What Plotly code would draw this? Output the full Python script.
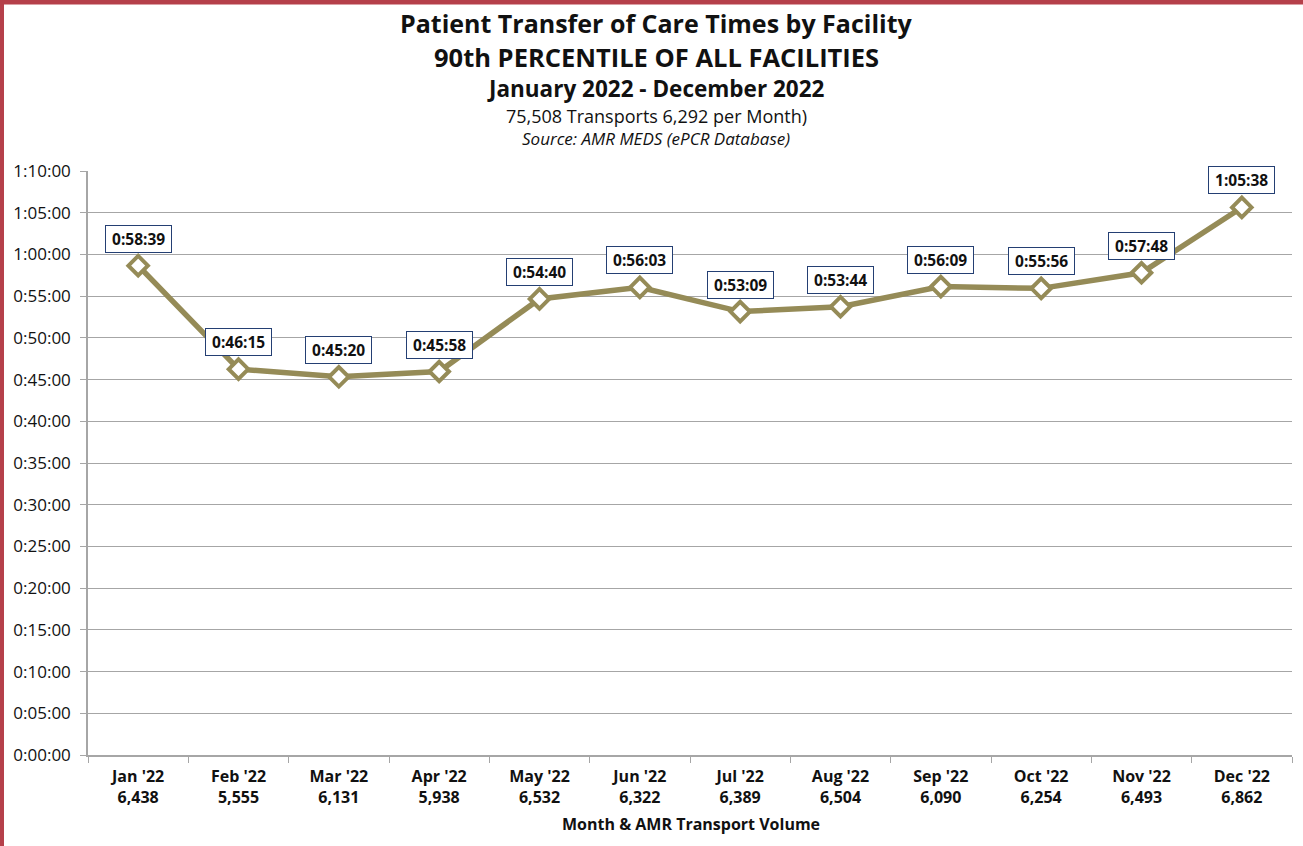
import plotly.graph_objects as go

months = ["Jan '22", "Feb '22", "Mar '22", "Apr '22", "May '22", "Jun '22",
          "Jul '22", "Aug '22", "Sep '22", "Oct '22", "Nov '22", "Dec '22"]
volumes = ["6,438", "5,555", "6,131", "5,938", "6,532", "6,322",
           "6,389", "6,504", "6,090", "6,254", "6,493", "6,862"]
times = ["0:58:39", "0:46:15", "0:45:20", "0:45:58", "0:54:40", "0:56:03",
         "0:53:09", "0:53:44", "0:56:09", "0:55:56", "0:57:48", "1:05:38"]
tick_labels = ["0:00:00", "0:05:00", "0:10:00", "0:15:00", "0:20:00", "0:25:00", "0:30:00",
               "0:35:00", "0:40:00", "0:45:00", "0:50:00", "0:55:00", "1:00:00", "1:05:00", "1:10:00"]


def to_sec(s):
    h, m, sec = s.split(":")
    return int(h) * 3600 + int(m) * 60 + int(sec)


secs = [to_sec(t) for t in times]
tick_vals = [to_sec(t) for t in tick_labels]
cats = [f"<b>{m}<br>{v}</b>" for m, v in zip(months, volumes)]

FONT = "Open Sans"
LINE = "#958b57"

fig = go.Figure()
fig.add_trace(go.Scatter(
    x=cats, y=secs, mode="lines+markers",
    line=dict(color=LINE, width=5.5),
    marker=dict(symbol="diamond", size=15, color="white", line=dict(color=LINE, width=4)),
    hoverinfo="skip", showlegend=False,
))

for c, s, t in zip(cats, secs, times):
    fig.add_annotation(x=c, y=s, text=f"&nbsp;<b>{t}</b>&nbsp;", showarrow=False, yshift=27,
                       font=dict(family=FONT, size=15.5, color="#111111"),
                       bgcolor="white", bordercolor="#243f73", borderwidth=1, borderpad=2)

L, R, T, B = 88, 11, 171, 91
W, H = 1303, 846
pw, ph = W - L - R, H - T - B


def px_x(px):
    return (px - L) / pw


def px_y(py):
    return (H - B - py) / ph


titles = [
    ("<b>Patient Transfer of Care Times by Facility</b>", 25, 23),
    ("<b>90th PERCENTILE OF ALL FACILITIES</b>", 25.5, 57),
    ("<b>January 2022 - December 2022</b>", 22.5, 88.5),
    ("75,508 Transports 6,292 per Month)", 18, 115.5),
    ("<i>Source: AMR MEDS (ePCR Database)</i>", 17, 138.5),
]
for text, size, py in titles:
    fig.add_annotation(xref="paper", yref="paper", x=px_x(656), y=px_y(py), text=text,
                       showarrow=False, xanchor="center", yanchor="middle",
                       font=dict(family=FONT, size=size, color="#111111"))

fig.add_annotation(xref="paper", yref="paper", x=px_x(691), y=px_y(824),
                   text="<b>Month & AMR Transport Volume</b>", showarrow=False,
                   xanchor="center", yanchor="middle",
                   font=dict(family=FONT, size=16, color="#111111"))

BORDER = "#b5404a"
fig.add_shape(type="rect", xref="paper", yref="paper", x0=px_x(0), x1=px_x(4),
              y0=px_y(846), y1=px_y(0), fillcolor=BORDER, line=dict(width=0), layer="above")
fig.add_shape(type="rect", xref="paper", yref="paper", x0=px_x(0), x1=px_x(1303),
              y0=px_y(4.5), y1=px_y(0), fillcolor=BORDER, line=dict(width=0), layer="above")

fig.update_layout(
    width=W, height=H,
    margin=dict(l=L, r=R, t=T, b=B),
    paper_bgcolor="white", plot_bgcolor="white",
    font=dict(family=FONT, color="#111111"),
    xaxis=dict(type="category", range=[-0.5, 11.5], showgrid=False,
               showline=True, linecolor="#a6a6a6", linewidth=1.5,
               ticks="outside", tickson="boundaries", ticklen=6, tickcolor="#a6a6a6",
               ticklabelstandoff=6,
               tickfont=dict(family=FONT, size=16, color="#111111"), fixedrange=True),
    yaxis=dict(range=[0, 4200], tickvals=tick_vals, ticktext=tick_labels,
               showgrid=True, gridcolor="#a6a6a6", gridwidth=1,
               showline=True, linecolor="#a6a6a6", linewidth=1.5,
               ticks="outside", ticklen=6, tickcolor="#a6a6a6", ticklabelstandoff=6,
               tickfont=dict(family=FONT, size=17, color="#111111"), zeroline=False,
               fixedrange=True),
)

fig.write_html("out.html", config={"displayModeBar": False},
               post_script="document.body.style.margin='0';")
